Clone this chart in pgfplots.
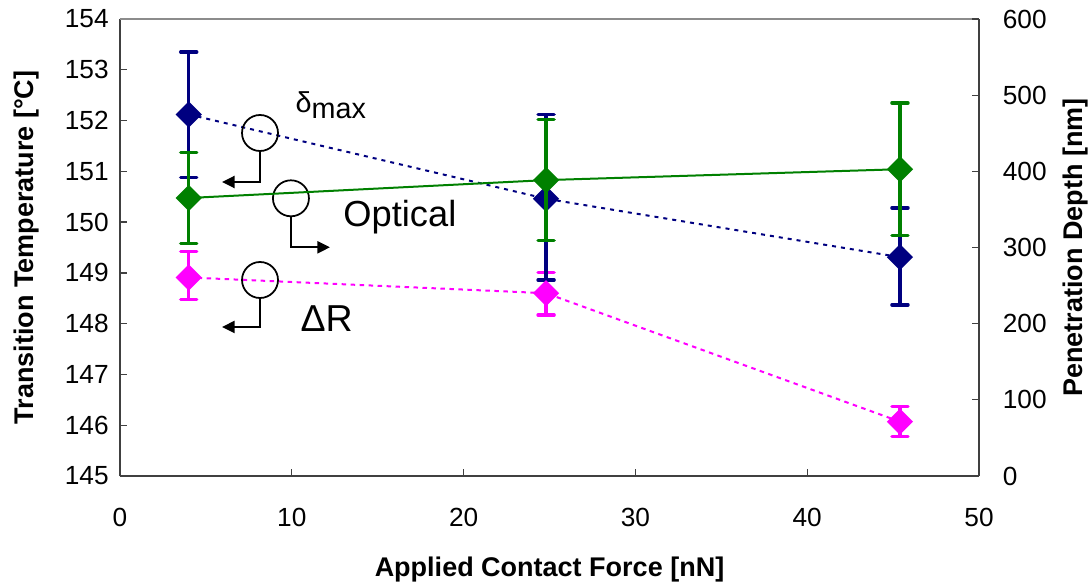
\documentclass[border=0pt]{standalone}
\usepackage{fontspec}
\setmainfont{Liberation Sans}
\usepackage{pgfplots}
\pgfplotsset{compat=1.18}
\usetikzlibrary{arrows.meta}
\definecolor{navyc}{HTML}{000080}
\definecolor{greenc}{HTML}{008000}
\definecolor{magc}{HTML}{FF00FF}
\begin{document}
\begin{tikzpicture}
\useasboundingbox (-48pt,-42.8pt) rectangle (387.6pt,190.4pt);
\pgfplotsset{
  common/.style={
    at={(0,0)}, anchor=south west, scale only axis,
    width=343.6pt, height=182.8pt,
    xmin=0, xmax=50,
    /pgf/number format/assume math mode=true,
    ticklabel style={font=\fontsize{10.5}{12}\selectfont},
    label style={font=\fontsize{10.8}{13}\selectfont\bfseries},
    major tick length=2.8pt,
    tick style={black!75, line width=0.5pt},
    tick align=inside,
    axis line style={black!75, line width=0.6pt},
  },
  ebar/.style={error bars/.cd, y dir=both, y explicit,
    error bar style={solid, line width=1.4pt, #1},
    error mark options={solid, rotate=90, line width=1.4pt, mark size=3.2pt, line cap=round, #1}},
}
\begin{axis}[common,
  ymin=145, ymax=154, ytick={145,146,...,154},
  xtick={0,10,...,50},
  axis x line*=bottom, axis y line*=left,
  xticklabel style={yshift=-9.5pt},
  yticklabel style={xshift=-1pt},
  xlabel={Applied Contact Force [nN]},
  ylabel={Transition Temperature [°C]},
  xlabel style={at={(axis description cs:0.5,0)}, anchor=center, yshift=-37.4pt},
  ylabel style={at={(axis description cs:-0.1083,0.5)}, anchor=center},
  clip=false,
]
\draw[black!45, line width=0.6pt] (axis description cs:0,1) -- (axis description cs:1,1);
% Delta R
\addplot[magc, line width=0.8pt, dash pattern=on 1.8pt off 1.8pt,
  mark=square*, mark size=3.3pt, mark options={solid, rotate=45, fill=magc, draw=magc},
  ebar=magc] coordinates {
  (4,148.91) += (0,0.51) -= (0,0.43)
  (24.8,148.60) += (0,0.41) -= (0,0.43)
  (45.4,146.07) += (0,0.30) -= (0,0.29)
};
% delta max
\addplot[navyc, line width=0.8pt, dash pattern=on 1.6pt off 2pt,
  mark=square*, mark size=3.3pt, mark options={solid, rotate=45, fill=navyc, draw=navyc},
  ebar=navyc] coordinates {
  (4,152.12) += (0,1.23) -= (0,1.24)
  (24.8,150.46) += (0,1.66) -= (0,1.60)
  (45.4,149.31) += (0,0.97) -= (0,0.94)
};
% callouts
\draw[black, line width=0.7pt] (axis cs:8.15,151.755) circle[radius=7.2pt];
\draw[black, line width=0.8pt, -{Triangle[length=5pt,width=4.8pt]}]
  ([yshift=-7.2pt]axis cs:8.15,151.755) -- (axis cs:8.15,150.79) -- (axis cs:5.94,150.79);
\draw[black, line width=0.7pt, fill=none] (axis cs:9.95,150.469) circle[radius=7.2pt];
\draw[black, line width=0.8pt, -{Triangle[length=5pt,width=4.8pt]}]
  ([yshift=-7.2pt]axis cs:9.95,150.469) -- (axis cs:9.95,149.504) -- (axis cs:12.22,149.504);
\draw[black, line width=0.7pt] (axis cs:8.15,148.86) circle[radius=7.2pt];
\draw[black, line width=0.8pt, -{Triangle[length=5pt,width=4.8pt]}]
  ([yshift=-7.2pt]axis cs:8.15,148.86) -- (axis cs:8.15,147.935) -- (axis cs:5.94,147.935);
\node[anchor=base west, inner sep=0pt, font=\fontsize{11.5}{13}\selectfont] at (axis cs:10.19,152.149) {δ\raisebox{-2.4pt}{max}};
\node[anchor=base west, inner sep=0pt, font=\fontsize{14.5}{16}\selectfont] at (axis cs:12.98,149.904) {Optical};
\node[anchor=base west, inner sep=0pt, font=\fontsize{15}{17}\selectfont] at (axis cs:10.48,147.836) {ΔR};
\end{axis}
\begin{axis}[common,
  ymin=0, ymax=600, ytick={0,100,...,600},
  axis x line=none, axis y line*=right,
  yticklabel style={xshift=6pt},
  ylabel={Penetration Depth [nm]},
  ylabel style={at={(axis description cs:1.1129,0.5)}, anchor=center},
]
% Optical
\addplot[greenc, line width=0.8pt,
  mark=square*, mark size=3.3pt, mark options={solid, rotate=45, fill=greenc, draw=greenc},
  ebar=greenc] coordinates {
  (4,365) += (0,60) -= (0,59.5)
  (24.8,388.5) += (0,79.5) -= (0,79.5)
  (45.4,402.8) += (0,87) -= (0,87.3)
};
\end{axis}
\end{tikzpicture}
\end{document}
